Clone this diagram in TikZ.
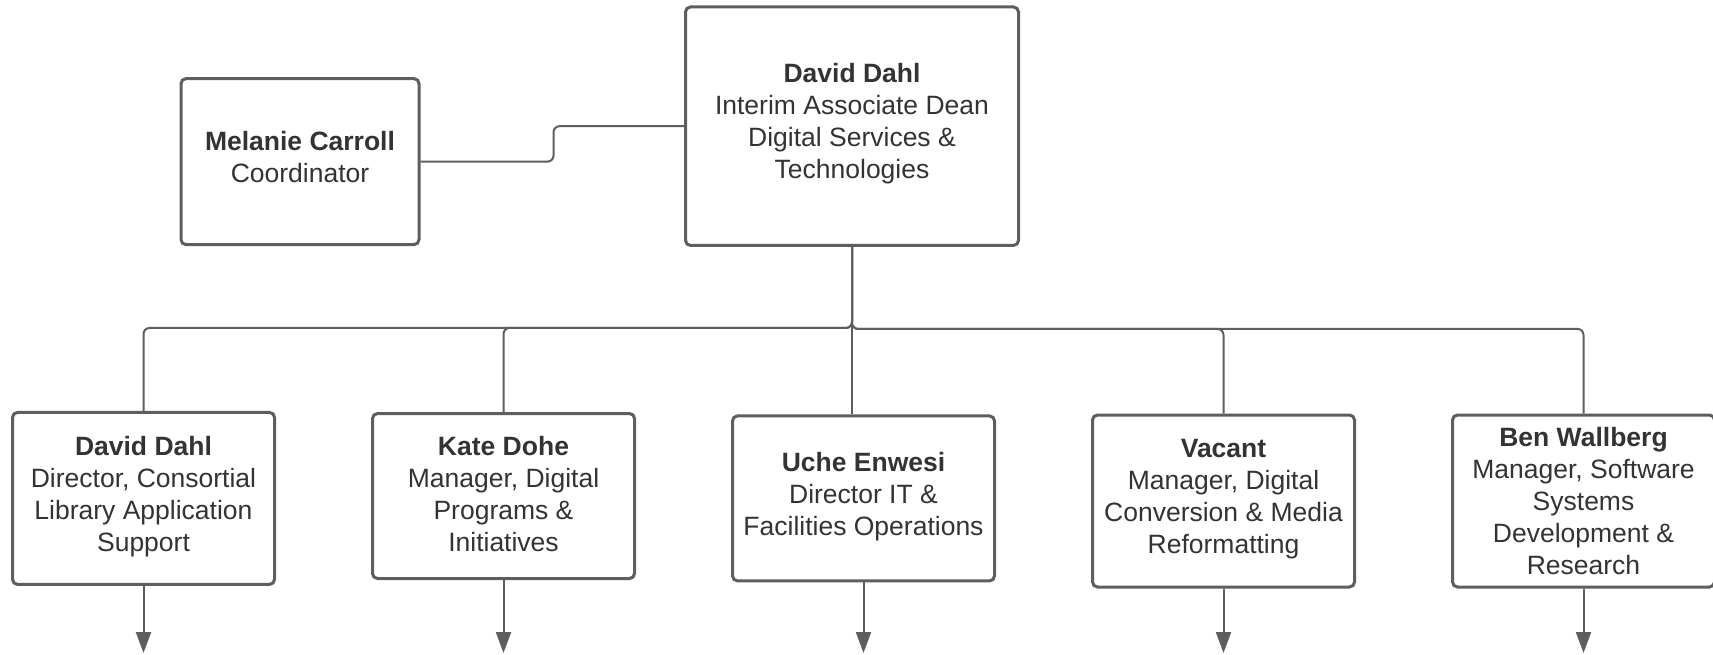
\documentclass[tikz,border=0pt]{standalone}
\usepackage{fontspec}
\setmainfont{Liberation Sans}
\usepackage{xcolor}
\usetikzlibrary{arrows.meta}
\definecolor{linegray}{RGB}{94,94,94}
\definecolor{textgray}{RGB}{51,51,51}

\begin{document}
\begin{tikzpicture}[>={Triangle[length=10.5pt,width=7.5pt]},color=linegray,
                    node distance=180pt]
  \tikzstyle{person}=[draw=linegray,line width=1.5pt,rounded corners=2.5pt,
                      fill=white,text=textgray,align=center,inner sep=2pt,
                      font=\fontsize{13.25}{16}\selectfont,text depth=5pt,
                      minimum width=131pt,minimum height=86pt]
  \tikzstyle{link}=[draw=linegray,line width=1pt,rounded corners=3pt]

  \useasboundingbox (0,0) rectangle (856.5pt,-327pt);
  \coordinate (base) at (0,-326.5pt);

  % top row
  \node[person,minimum width=166.5pt,minimum height=119.25pt] (dean) at (426pt,-63.1pt)
       {\textbf{David Dahl}\\Interim Associate Dean\\Digital Services \&\\Technologies};
  \node[person,minimum width=119pt,minimum height=83pt] (mel) at (150pt,-80.8pt)
       {\textbf{Melanie Carroll}\\Coordinator};

  % bottom row
  \node[person]                      (dahl) at (71.75pt,-249.2pt)
       {\textbf{David Dahl}\\Director, Consortial\\Library Application\\Support};
  \node[person,minimum height=82.5pt,text depth=2.5pt,yshift=1.2pt] (dohe) [right of=dahl]
       {\textbf{Kate Dohe}\\Manager, Digital\\Programs \&\\Initiatives};
  \node[person,minimum height=82.5pt,yshift=-1.2pt] (enwesi) [right of=dohe]
       {\textbf{Uche Enwesi}\\Director IT \&\\Facilities Operations};
  \node[person,yshift=-1.3pt]        (vacant) [right of=enwesi]
       {\textbf{Vacant}\\Manager, Digital\\Conversion \& Media\\Reformatting};
  \node[person,text depth=0pt]       (wallberg) [right of=vacant]
       {\textbf{Ben Wallberg}\\Manager, Software\\Systems\\Development \&\\Research};

  \draw[link] (mel.east) -- ++(66.5pt,0) |- (dean.west);

  \draw[link] (dean.south) -- ++(0,-40.5pt) -| (dahl.north);
  \draw[link] (dean.south) -- ++(0,-40.5pt) -| (dohe.north);
  \draw[link] (dean.south) -- (dean.south |- enwesi.north);
  \draw[link] (dean.south) -- ++(0,-41pt) -| (vacant.north);
  \draw[link] (dean.south) -- ++(0,-41pt) -| (wallberg.north);

  \path (dahl.south)     edge[link,->] (dahl.south |- base)
        (dohe.south)     edge[link,->] (dohe.south |- base)
        (enwesi.south)   edge[link,->] (enwesi.south |- base)
        (vacant.south)   edge[link,->] (vacant.south |- base)
        (wallberg.south) edge[link,->] (wallberg.south |- base);
\end{tikzpicture}
\end{document}
